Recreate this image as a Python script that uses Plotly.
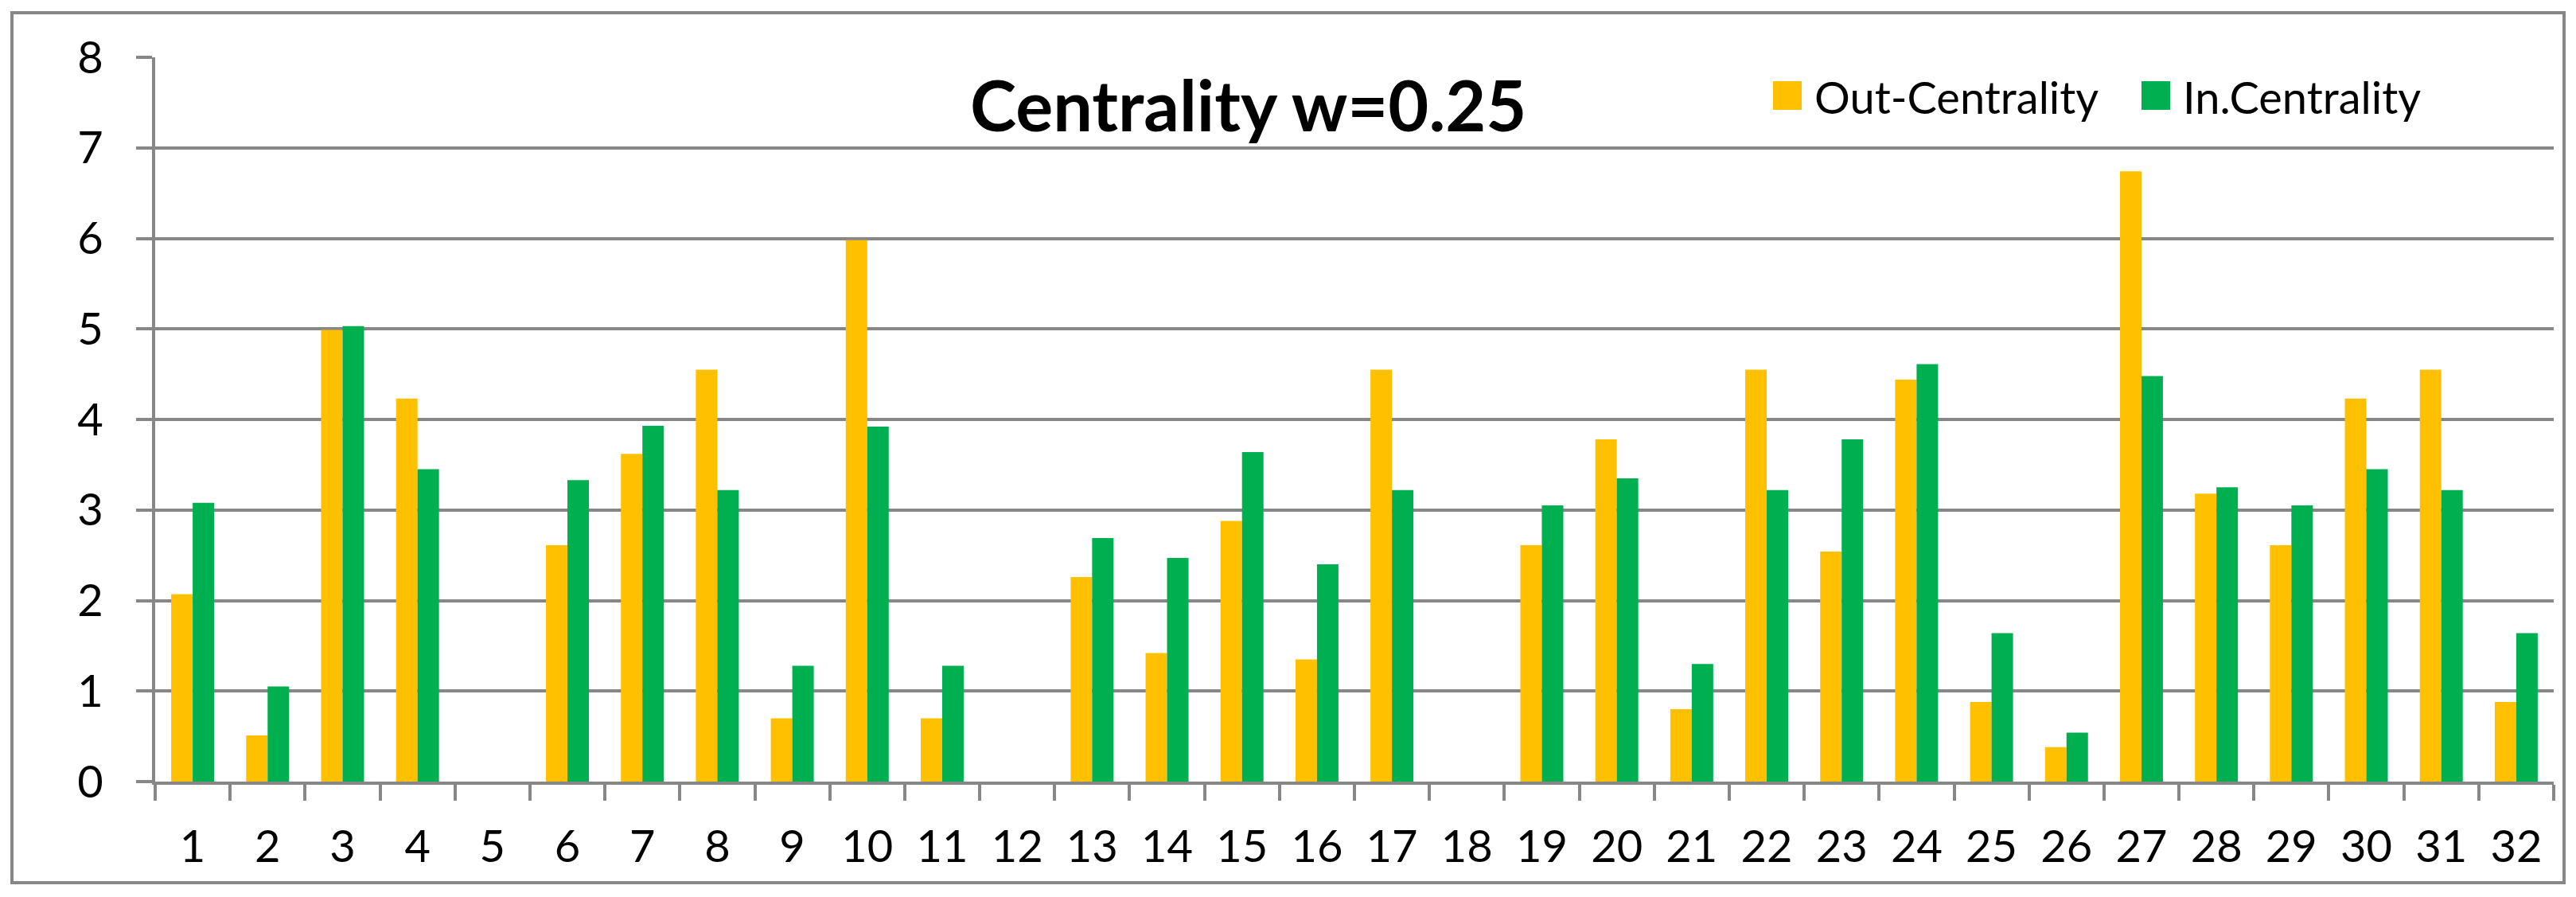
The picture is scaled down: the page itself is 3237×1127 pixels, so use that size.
import plotly.graph_objects as go

categories = [str(i) for i in range(1, 33)]
out_centrality = [2.07, 0.51, 4.99, 4.23, 0, 2.61, 3.62, 4.55, 0.70, 5.98,
                  0.70, 0, 2.26, 1.42, 2.88, 1.35, 4.55, 0, 2.61, 3.78,
                  0.80, 4.55, 2.54, 4.44, 0.88, 0.38, 6.74, 3.18, 2.61, 4.23,
                  4.55, 0.88]
in_centrality = [3.08, 1.05, 5.03, 3.45, 0, 3.33, 3.93, 3.22, 1.28, 3.92,
                 1.28, 0, 2.69, 2.47, 3.64, 2.40, 3.22, 0, 3.05, 3.35,
                 1.30, 3.22, 3.78, 4.61, 1.64, 0.54, 4.48, 3.25, 3.05, 3.45,
                 3.22, 1.64]
y_ticks = [0, 1, 2, 3, 4, 5, 6, 7, 8]
series_names = ["Out-Centrality", "In.Centrality"]
colors = ["#FFC000", "#00B050"]
title_text = "Centrality w=0.25"

W, H = 3237, 1127
L, R, T, B = 195, 28, 72, 145
PW, PH = W - L - R, H - T - B
GRID = "#878787"
FONT = "Lato"
TICK_SIZE = 56


def px(x):
    return (x - L) / PW


def py(y):
    return (H - B - y) / PH


fig = go.Figure()
for name, vals, col in zip(series_names, [out_centrality, in_centrality], colors):
    fig.add_trace(go.Bar(x=categories, y=vals, name=name, marker=dict(color=col, line=dict(width=0)),
                         showlegend=False))

shapes = [
    dict(type="rect", xref="paper", yref="paper", x0=px(15), x1=px(3222), y0=py(16), y1=py(1109),
         line=dict(color=GRID, width=4), fillcolor="rgba(0,0,0,0)", layer="below"),
]
annotations = [
    dict(text="<b>" + title_text + "</b>", xref="paper", yref="paper", x=px(1568), y=py(131),
         xanchor="center", yanchor="middle", showarrow=False,
         font=dict(family=FONT, size=88, color="black")),
]
# manual legend
leg_x = [2228, 2691]
for i, (name, col) in enumerate(zip(series_names, colors)):
    x0 = leg_x[i]
    shapes.append(dict(type="rect", xref="paper", yref="paper", x0=px(x0), x1=px(x0 + 36),
                       y0=py(138), y1=py(102), line=dict(width=0), fillcolor=col))
    annotations.append(dict(text=name, xref="paper", yref="paper", x=px(x0 + 50), y=py(121),
                            xanchor="left", yanchor="middle", showarrow=False,
                            font=dict(family=FONT, size=TICK_SIZE, color="black")))

fig.update_layout(
    width=W, height=H,
    margin=dict(l=L, r=R, t=T, b=B, pad=0),
    paper_bgcolor="white", plot_bgcolor="white",
    barmode="group", bargap=0.427, bargroupgap=0,
    font=dict(family=FONT, size=TICK_SIZE, color="black"),
    shapes=shapes, annotations=annotations,
    showlegend=False,
)
fig.update_xaxes(
    type="category", showline=True, linecolor=GRID, linewidth=4,
    ticks="outside", tickson="boundaries", ticklen=20, tickwidth=4, tickcolor=GRID,
    showgrid=False, tickfont=dict(family=FONT, size=TICK_SIZE, color="black"),
    ticklabelstandoff=30,
)
fig.update_yaxes(
    range=[0, 8], tickvals=y_ticks, showgrid=True, gridcolor=GRID, gridwidth=4,
    showline=True, linecolor=GRID, linewidth=4, zeroline=False,
    ticks="outside", ticklen=20, tickwidth=4, tickcolor=GRID,
    tickfont=dict(family=FONT, size=TICK_SIZE, color="black"), ticklabelstandoff=30,
)

fig.write_html("out.html", config={"displayModeBar": False},
               post_script="document.body.style.margin='0';document.body.style.overflow='hidden';")
